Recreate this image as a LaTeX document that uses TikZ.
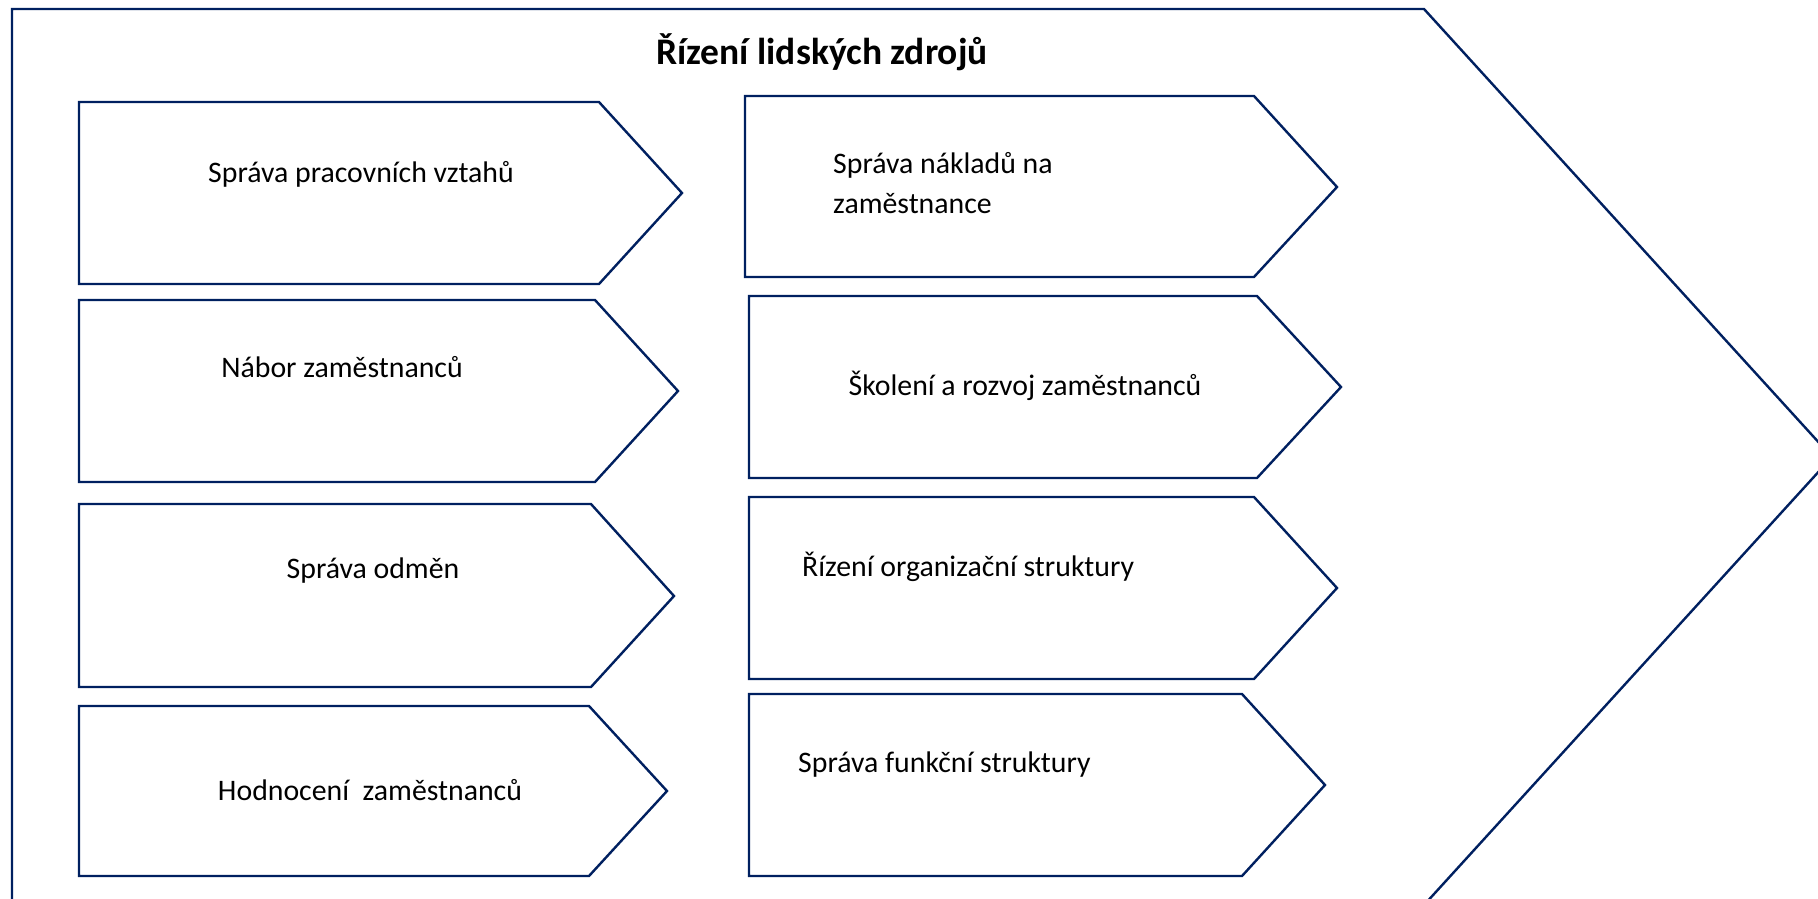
\documentclass[tikz,border=0pt]{standalone}
\usepackage{fontspec}
\setmainfont{Carlito}
\definecolor{navy}{HTML}{002060}
\tikzset{
  boxline/.style={draw=navy, line width=2.4pt, line join=miter, fill=white},
  outerline/.style={draw=navy, line width=2.4pt, line join=miter},
  lbl/.style={inner sep=0pt, font=\fontsize{29.8}{40}\selectfont, text=black},
  ttl/.style={inner sep=0pt, font=\fontsize{37.5}{44}\selectfont\bfseries, text=black}
}
\newcommand\chevbox[7]{%
  \path[boxline] (#2,#3) coordinate (#1-nw) -- (#5,#3) -- (#6,#7) coordinate (#1-tip) -- (#5,#4) -- (#2,#4) coordinate (#1-sw) -- cycle;}
\begin{document}
\begin{tikzpicture}[x=1pt,y=-1pt]
\useasboundingbox (0,0) rectangle (1818,899);
\clip (0,0) rectangle (1818,899);
\fill[white] (0,0) rectangle (1818,899);
% outer chevron
\draw[outerline] (12,9) coordinate (o-nw) -- (1424,9) coordinate (o-ne) -- (1832,457) coordinate (o-tip) -- (1424,905) coordinate (o-se) -- (12,905) coordinate (o-sw) -- cycle;
\node[ttl, anchor=base] (title) at (822,65) {Řízení lidských zdrojů};
% left column
\chevbox{L1}{79}{102}{284}{599}{682}{193}
\chevbox{L2}{79}{300}{482}{595}{678}{391}
\chevbox{L3}{79}{504}{687}{591}{674}{596}
\chevbox{L4}{79}{706}{876}{589}{667}{791}
% right column
\chevbox{R1}{745}{96}{277}{1254}{1337}{187}
\chevbox{R2}{749}{296}{478}{1257}{1341}{387}
\chevbox{R3}{749}{497}{679}{1254}{1337}{588}
\chevbox{R4}{749}{694}{876}{1242}{1325}{785}
% labels
\node[lbl, anchor=base] (tL1) at (361,182) {Správa pracovních vztahů};
\node[lbl, anchor=base] (tL2) at (342,377) {Nábor zaměstnanců};
\node[lbl, anchor=base] (tL3) at (373,578) {Správa odměn};
\node[lbl, anchor=base] (tL4) at (370,800) {Hodnocení\ \ zaměstnanců};
\node[lbl, anchor=base west] (tR1a) at (833,173) {Správa nákladů na};
\node[lbl, anchor=base west] (tR1b) at (833,213) {zaměstnance};
\node[lbl, anchor=base] (tR2) at (1025,395) {Školení a rozvoj zaměstnanců};
\node[lbl, anchor=base west] (tR3) at (802,576) {Řízení organizační struktury};
\node[lbl, anchor=base west] (tR4) at (798,772) {Správa funkční struktury};
\end{tikzpicture}
\end{document}
